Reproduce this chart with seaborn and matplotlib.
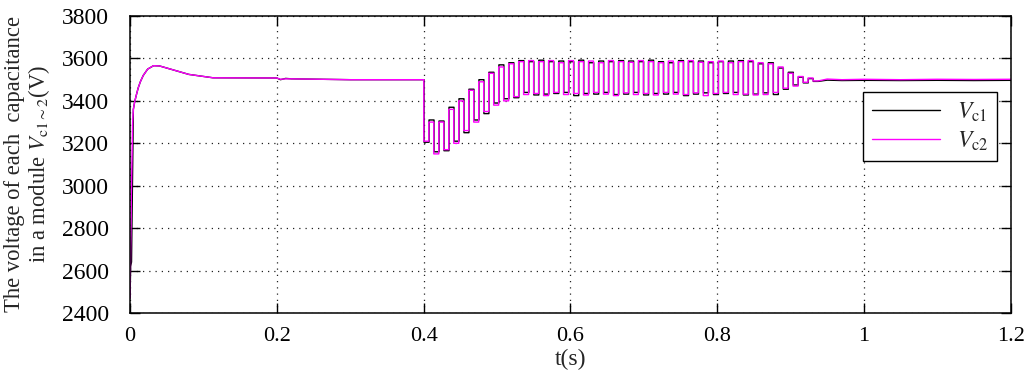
import numpy as np
import pandas as pd
import matplotlib
matplotlib.use("Agg")
import matplotlib.pyplot as plt
import seaborn as sns

# ==========================================
# 1. DATA
# ==========================================
# start-up and steady part before the disturbance
t_start = [0.0, 0.0008, 0.002, 0.0035, 0.0045, 0.006, 0.008, 0.011, 0.014, 0.018,
           0.024, 0.032, 0.04, 0.05, 0.06, 0.07, 0.08, 0.1, 0.113, 0.2, 0.205,
           0.212, 0.22, 0.3, 0.3935]
vc1_start = [2470, 2620, 2640, 3050, 3360, 3390, 3420, 3460, 3490, 3520,
             3550, 3566, 3565, 3555, 3545, 3535, 3525, 3515, 3509, 3508, 3500,
             3506, 3504, 3500, 3500]
vc2_start = [2470, 2700, 3000, 3300, 3360, 3390, 3420, 3460, 3490, 3520,
             3550, 3566, 3565, 3555, 3545, 3535, 3525, 3515, 3509, 3508, 3502,
             3504, 3504, 3500, 3500]

# oscillation after t = 0.4 s : one peak / trough per cycle
osc_t0 = 0.3935
osc_period = 0.0136
vc2_peak = [3500, 3300, 3300, 3360, 3400, 3450, 3490, 3530, 3560, 3575,
            3585, 3590, 3585, 3590, 3580, 3590, 3585, 3588, 3580, 3590,
            3585, 3582, 3590, 3585, 3580, 3588, 3585, 3590, 3582, 3585,
            3588, 3580, 3585, 3590, 3580, 3575, 3560, 3530, 3515, 3508]
vc2_trough = [3210, 3150, 3170, 3200, 3260, 3300, 3350, 3380, 3400, 3420,
              3430, 3435, 3425, 3440, 3430, 3435, 3428, 3440, 3432, 3425,
              3438, 3430, 3435, 3428, 3440, 3432, 3430, 3438, 3425, 3435,
              3440, 3430, 3432, 3428, 3430, 3440, 3460, 3470, 3488, 3494]
vc1_peak = [3500, 3310, 3305, 3370, 3410, 3455, 3500, 3535, 3570, 3580,
            3590, 3585, 3592, 3585, 3588, 3585, 3592, 3580, 3588, 3585,
            3590, 3588, 3585, 3592, 3585, 3580, 3590, 3585, 3588, 3580,
            3585, 3588, 3590, 3585, 3575, 3580, 3555, 3535, 3512, 3505]
vc1_trough = [3205, 3160, 3165, 3210, 3250, 3310, 3340, 3390, 3410, 3415,
              3440, 3428, 3432, 3435, 3440, 3425, 3435, 3432, 3440, 3430,
              3432, 3440, 3428, 3435, 3432, 3440, 3425, 3432, 3438, 3430,
              3435, 3440, 3428, 3432, 3438, 3430, 3455, 3475, 3485, 3492]
vc1_lag = 0.0003

# settled tail
t_tail = [0.95, 0.97, 1.0, 1.05, 1.1, 1.15, 1.2]
vc1_tail = [3498, 3496, 3497, 3496, 3497, 3496, 3497]
vc2_tail = [3503, 3500, 3502, 3500, 3502, 3501, 3502]


def build(t_s, v_s, peaks, troughs, lag, v_tail):
    t, v = list(t_s), list(v_s)
    half = osc_period / 2
    for k, (p, q) in enumerate(zip(peaks, troughs)):
        tk = osc_t0 + k * osc_period + lag
        t += [tk, tk + half, tk + half, tk + osc_period]
        v += [p, p, q, q]
    t += t_tail
    v += v_tail
    return t, v


t1, v1 = build(t_start, vc1_start, vc1_peak, vc1_trough, vc1_lag, vc1_tail)
t2, v2 = build(t_start, vc2_start, vc2_peak, vc2_trough, 0.0, vc2_tail)
df = pd.concat([
    pd.DataFrame({"t": t1, "v": v1, "series": r"$V_{\rm c1}$"}),
    pd.DataFrame({"t": t2, "v": v2, "series": r"$V_{\rm c2}$"}),
], ignore_index=True)

# ==========================================
# 2. PLOT
# ==========================================
sns.set_style("ticks")
plt.rcParams["font.family"] = ["Liberation Serif", "DejaVu Serif"]
plt.rcParams["mathtext.fontset"] = "stix"

fig = plt.figure(figsize=(10.24, 3.83), dpi=100)
ax = fig.add_axes([0.127, 0.183, 0.860, 0.775])

sns.lineplot(data=df, x="t", y="v", hue="series", sort=False, estimator=None,
             palette=["#000000", "#ff00ff"], linewidth=1.0, ax=ax)

ax.set_xlim(0, 1.2)
ax.set_ylim(2400, 3800)
ax.set_xticks([0, 0.2, 0.4, 0.6, 0.8, 1.0, 1.2])
ax.set_xticklabels(["0", "0.2", "0.4", "0.6", "0.8", "1", "1.2"])
ax.set_yticks(np.arange(2400, 3801, 200))
ax.tick_params(direction="in", length=7, width=1, top=True, right=True,
               colors="black")
ax.tick_params(axis="y", labelsize=17, pad=15)
ax.tick_params(axis="x", labelsize=16, pad=10)
ax.grid(True, linestyle=(0, (1, 4)), color="#222222", linewidth=0.9)
for s in ax.spines.values():
    s.set_color("black")
    s.set_linewidth(1.1)

ax.set_xlabel("t(s)", fontsize=17, labelpad=2)
ax.set_ylabel("The voltage of each  capacitance\n"
              r"in a module $V_{\rm c1\sim2}$(V)", fontsize=16.3,
              linespacing=1.05)
ax.yaxis.set_label_coords(-0.089, 0.5)

leg = ax.legend(loc="upper right", bbox_to_anchor=(0.984, 0.744), fontsize=17,
                frameon=True, fancybox=False, edgecolor="black",
                handlelength=2.9, handletextpad=0.7, borderpad=0.35,
                labelspacing=0.25, borderaxespad=0, title=None)
leg.get_frame().set_linewidth(1.0)
leg.get_frame().set_alpha(1)

fig.savefig("out.png", dpi=100)
